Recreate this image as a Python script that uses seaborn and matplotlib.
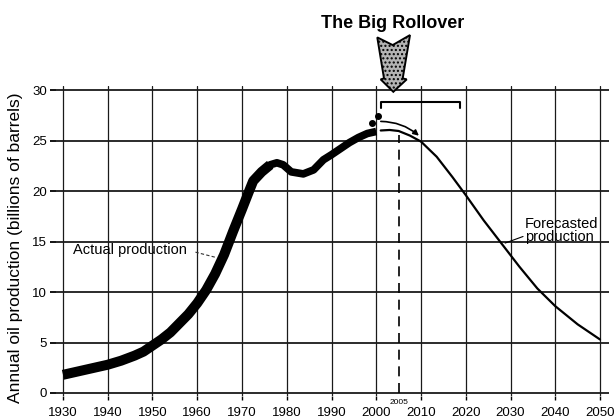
import numpy as np
import pandas as pd
import matplotlib
matplotlib.use("Agg")
import matplotlib.pyplot as plt
from matplotlib.patches import Polygon
import seaborn as sns

# Historical world oil production (billions of barrels per year)
actual_years = [1930, 1933, 1936, 1940, 1943, 1946, 1948, 1950, 1952, 1954,
                1956, 1958, 1960, 1962, 1964, 1966, 1968, 1970, 1971.5, 1972.5,
                1974.4, 1976.3, 1977.8, 1979.2, 1981, 1983.7, 1986, 1988.2,
                1990, 1992, 1994, 1996, 1998, 2000]
actual_values = [1.8, 2.1, 2.4, 2.8, 3.2, 3.7, 4.1, 4.7, 5.3, 6.0,
                 6.9, 7.8, 8.9, 10.2, 11.8, 13.7, 16.0, 18.2, 19.9, 21.0,
                 21.9, 22.6, 22.8, 22.6, 21.9, 21.7, 22.1, 23.1,
                 23.6, 24.2, 24.8, 25.3, 25.7, 25.9]

# Forecasted production after the peak
forecast_years = [2001, 2003, 2005, 2007.5, 2010, 2013.5, 2017, 2020, 2024,
                  2028, 2032, 2036, 2040, 2045, 2050]
forecast_values = [26.0, 26.05, 25.95, 25.5, 24.9, 23.4, 21.4, 19.6, 17.1,
                   14.8, 12.5, 10.35, 8.6, 6.8, 5.3]

# Two isolated recent readings
dot_years = [1999, 2000.5]
dot_values = [26.7, 27.4]

peak_year = 2005
x_ticks = list(range(1930, 2051, 10))
y_ticks = list(range(0, 31, 5))

actual = pd.DataFrame({"year": actual_years, "prod": actual_values})
forecast = pd.DataFrame({"year": forecast_years, "prod": forecast_values})

sns.set_theme(style="white")
plt.rcParams["font.family"] = ["Liberation Sans", "DejaVu Sans"]
plt.rcParams["text.color"] = "black"
plt.rcParams["axes.labelcolor"] = "black"
plt.rcParams["xtick.color"] = "black"
plt.rcParams["ytick.color"] = "black"

fig = plt.figure(figsize=(6.15, 4.2), dpi=100)
ax = fig.add_axes([0.0915, 0.0571, 0.8987, 0.738])

ax.set_xlim(1928.5, 2052)
ax.set_ylim(-0.3, 30.4)
for s in ax.spines.values():
    s.set_visible(False)

# grid drawn as dark lines
for yv in y_ticks:
    ax.axhline(yv, color="#1a1a1a", lw=1.3, zorder=1)
for xv in x_ticks:
    ax.axvline(xv, color="#1a1a1a", lw=0.9, zorder=1)

# actual production: heavy line, slightly thinner after the 1970s
early = actual[actual["year"] <= 1976.3]
late = actual[actual["year"] >= 1974.4]
sns.lineplot(data=early, x="year", y="prod", ax=ax, color="black", lw=7.2,
             solid_joinstyle="round", solid_capstyle="butt", zorder=3)
sns.lineplot(data=late, x="year", y="prod", ax=ax, color="black", lw=5.5,
             solid_joinstyle="round", solid_capstyle="butt", zorder=3)

# forecast
sns.lineplot(data=forecast, x="year", y="prod", ax=ax, color="black", lw=1.6, zorder=3)

ax.plot(dot_years, dot_values, "o", color="black", ms=4, zorder=4)

# peak marker
ax.plot([peak_year, peak_year], [0, 25.6], color="black", lw=1.2,
        dashes=(6, 4), zorder=2)
ax.text(peak_year, -0.95, str(peak_year), fontsize=6, ha="center", va="center",
        clip_on=False)

# bracket over the plateau
ax.plot([2001, 2001, 2018.8, 2018.8], [28.2, 28.8, 28.8, 28.2], color="black",
        lw=1.5, zorder=3)

# curved arrow over the peak
ax.annotate("", xy=(2010.0, 25.3), xytext=(2000.4, 26.9),
            arrowprops=dict(arrowstyle="-|>", color="black", lw=1.2,
                            mutation_scale=8,
                            connectionstyle="arc3,rad=-0.2"), zorder=4)

# hatched downward arrow
arrow_pts = [(2000.23, 35.22), (2003.68, 34.46), (2007.54, 35.45),
             (2005.91, 31.16), (2006.80, 31.06), (2003.81, 29.83),
             (2000.99, 31.06), (2001.73, 31.16)]
ax.add_patch(Polygon(arrow_pts, closed=True, facecolor="#b4b4b4",
                     edgecolor="black", lw=1.4, hatch="....", clip_on=False,
                     zorder=5))

ax.text(1932.2, 14.15, "Actual production", fontsize=10.5, ha="left",
        va="center", zorder=4)
ax.plot([1959.6, 1964.4], [13.95, 13.4], color="#333333", lw=0.8,
        dashes=(3, 2), zorder=4)

ax.text(2033.2, 16.1, "Forecasted\nproduction", fontsize=10.5, ha="left",
        va="center", linespacing=0.95, zorder=4)
ax.plot([2032.8, 2028.8], [15.5, 14.85], color="black", lw=0.8, zorder=4)

ax.set_xticks(x_ticks)
ax.set_yticks(y_ticks)
ax.tick_params(axis="x", length=3, width=1, color="black", pad=5,
               labelsize=9.5, direction="out", bottom=True)
ax.tick_params(axis="y", length=4.5, width=1.3, color="black", pad=2,
               labelsize=9.5, direction="out", left=True)
ax.set_xlabel("")
ax.set_ylabel("Annual oil production (billions of barrels)", fontsize=12.5)
ax.yaxis.set_label_coords(-0.06, 0.479)

fig.text(393 / 615, 1 - 24 / 420, "The Big Rollover", fontsize=13,
         fontweight="bold", ha="center", va="center")

fig.savefig("out.png", dpi=100)
